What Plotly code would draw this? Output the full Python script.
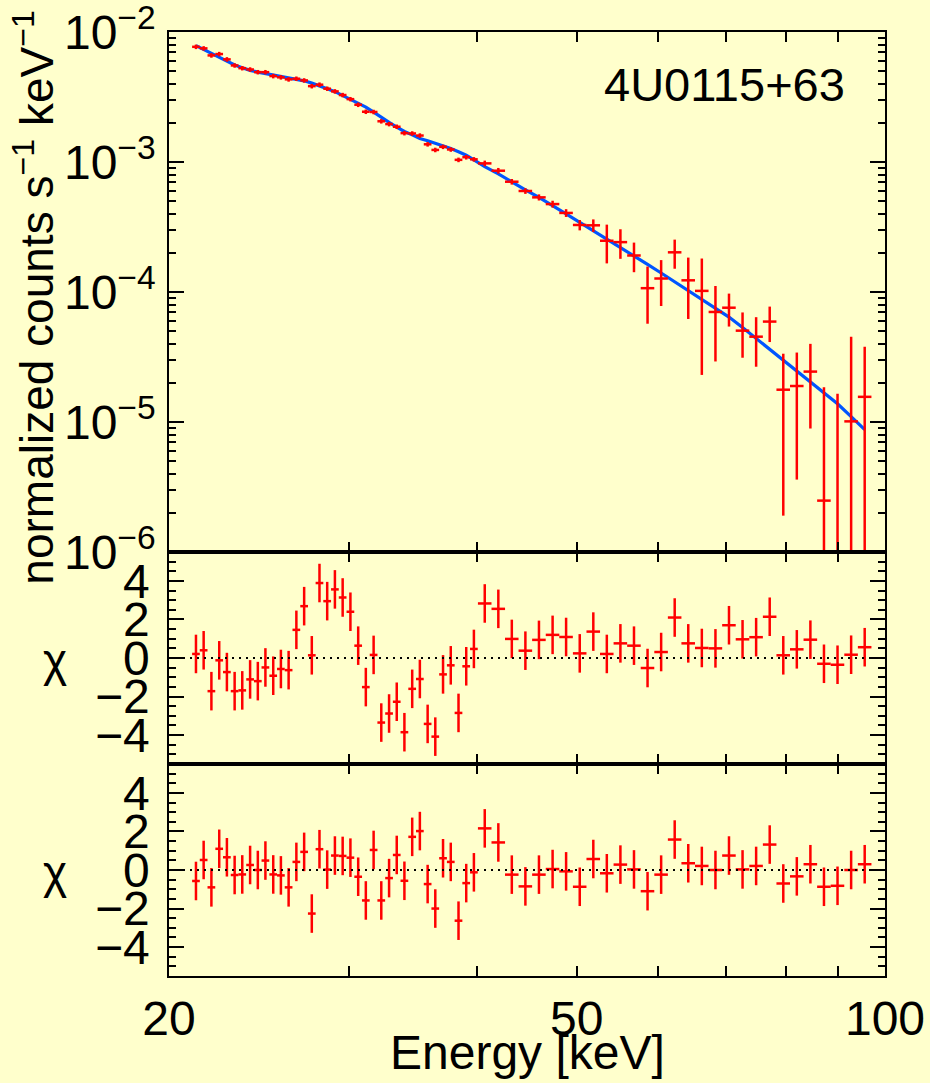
import plotly.graph_objects as go
from plotly.subplots import make_subplots

# ---------------- data ----------------
energy = [21.25, 21.62, 22.00, 22.39, 22.78, 23.18, 23.58, 24.00, 24.42, 24.84,
          25.28, 25.72, 26.17, 26.63, 27.10, 27.57, 28.05, 28.54, 29.04, 29.55,
          30.07, 30.60, 31.13, 31.68, 32.23, 32.80, 33.37, 33.95, 34.55, 35.15,
          35.77, 36.39, 37.03, 37.68, 38.34, 39.01, 39.69,
          40.67, 41.93, 43.22, 44.56, 45.94, 47.37, 48.83, 50.35, 51.91, 53.51,
          55.17, 56.88, 58.64, 60.46, 62.33, 64.26, 66.25, 68.31, 70.42, 72.60,
          74.85, 77.17, 79.56, 82.02, 84.56, 87.18, 89.88, 92.67, 95.54]

energy_halfwidth = [0.184, 0.188, 0.191, 0.194, 0.198, 0.201, 0.205, 0.208, 0.212, 0.216,
                    0.219, 0.223, 0.227, 0.231, 0.235, 0.239, 0.243, 0.248, 0.252, 0.256,
                    0.261, 0.266, 0.270, 0.275, 0.280, 0.285, 0.290, 0.295, 0.300, 0.305,
                    0.310, 0.316, 0.321, 0.327, 0.333, 0.339, 0.344,
                    0.620, 0.639, 0.659, 0.680, 0.701, 0.722, 0.745, 0.768, 0.792, 0.816,
                    0.841, 0.867, 0.894, 0.922, 0.951, 0.980, 1.010, 1.042, 1.074, 1.107,
                    1.142, 1.177, 1.213, 1.251, 1.290, 1.330, 1.371, 1.413, 1.457]

flux = [7.71e-3, 7.50e-3, 6.62e-3, 6.78e-3, 6.17e-3, 5.54e-3, 5.28e-3, 5.16e-3, 4.92e-3, 4.92e-3,
        4.59e-3, 4.49e-3, 4.33e-3, 4.38e-3, 4.25e-3, 3.84e-3, 3.94e-3, 3.67e-3, 3.50e-3, 3.28e-3,
        3.05e-3, 2.76e-3, 2.44e-3, 2.43e-3, 2.06e-3, 1.96e-3, 1.87e-3, 1.67e-3, 1.66e-3, 1.60e-3,
        1.37e-3, 1.24e-3, 1.31e-3, 1.25e-3, 1.04e-3, 1.09e-3, 1.05e-3,
        9.77e-4, 8.58e-4, 7.06e-4, 5.99e-4, 5.35e-4, 4.75e-4, 4.06e-4, 3.28e-4, 3.26e-4, 2.48e-4,
        2.42e-4, 1.91e-4, 1.07e-4, 1.27e-4, 2.02e-4, 1.23e-4, 1.02e-4, 7.02e-5, 7.57e-5, 5.04e-5,
        4.53e-5, 5.92e-5, 1.77e-5, 1.89e-5, 2.44e-5, 2.48e-6, 7.0e-7, 1.01e-5, 1.56e-5]

flux_err = [3.1e-4, 3.0e-4, 2.65e-4, 2.7e-4, 2.5e-4, 2.2e-4, 2.1e-4, 2.05e-4, 1.95e-4, 1.95e-4,
            1.85e-4, 1.8e-4, 1.75e-4, 1.75e-4, 1.7e-4, 1.55e-4, 1.6e-4, 1.45e-4, 1.4e-4, 1.3e-4,
            1.2e-4, 1.1e-4, 9.8e-5, 9.7e-5, 8.2e-5, 7.8e-5, 7.5e-5, 6.7e-5, 6.6e-5, 6.4e-5,
            5.5e-5, 5.0e-5, 5.2e-5, 5.0e-5, 4.2e-5, 4.4e-5, 4.2e-5,
            4.9e-5, 4.3e-5, 3.5e-5, 3.0e-5, 2.9e-5, 2.9e-5, 2.8e-5, 3.0e-5, 3.6e-5, 8.2e-5,
            6.2e-5, 4.9e-5, 5.0e-5, 4.9e-5, 5.1e-5, 6.1e-5, 7.9e-5, 4.1e-5, 2.15e-5, 1.92e-5,
            1.87e-5, 1.8e-5, 1.58e-5, 1.53e-5, 1.55e-5, 1.6e-5, 1.58e-5, 3.52e-5, 2.23e-5]

model = [7.87e-3, 7.35e-3, 6.87e-3, 6.40e-3, 5.97e-3, 5.58e-3, 5.33e-3, 5.08e-3, 4.92e-3, 4.79e-3,
         4.66e-3, 4.55e-3, 4.44e-3, 4.35e-3, 4.22e-3, 4.05e-3, 3.87e-3, 3.67e-3, 3.48e-3, 3.24e-3,
         3.03e-3, 2.83e-3, 2.65e-3, 2.42e-3, 2.20e-3, 2.02e-3, 1.86e-3, 1.72e-3, 1.62e-3, 1.52e-3,
         1.46e-3, 1.40e-3, 1.33e-3, 1.27e-3, 1.20e-3, 1.13e-3, 1.04e-3,
         9.23e-4, 8.11e-4, 7.02e-4, 6.12e-4, 5.35e-4, 4.66e-4, 4.00e-4, 3.44e-4, 2.97e-4, 2.55e-4,
         2.20e-4, 1.90e-4, 1.63e-4, 1.40e-4, 1.20e-4, 1.02e-4, 8.77e-5, 7.50e-5, 6.41e-5, 5.33e-5,
         4.40e-5, 3.64e-5, 3.00e-5, 2.48e-5, 2.05e-5, 1.68e-5, 1.38e-5, 1.10e-5, 8.73e-6]

chi_middle = [0.21, 0.40, -1.72, -0.12, -0.73, -1.72, -1.68, -1.11, -1.20, -0.49,
              -0.92, -0.57, -0.63, 1.46, 2.69, 0.14, 3.89, 2.95, 3.56, 3.14,
              2.40, 0.64, -1.51, 0.16, -3.35, -2.88, -2.27, -3.85, -1.60, -1.09,
              -3.42, -4.08, -0.85, -0.38, -2.85, -0.43, 0.47,
              2.83, 2.55, 0.99, 0.38, 0.94, 1.20, 1.09, 0.24, 1.37, 0.21,
              0.76, 0.64, -0.52, 0.31, 2.10, 0.76, 0.52, 0.50, 1.70, 0.97,
              1.08, 2.14, 0.14, 0.45, 0.95, -0.30, -0.35, 0.17, 0.56]

chi_bottom = [-0.57, 0.52, -0.90, 1.10, 0.66, -0.26, -0.23, 0.26, 0.00, 0.49,
              -0.23, -0.28, -0.90, 0.42, 0.94, -2.26, 1.08, 0.02, 0.75, 0.73,
              0.64, -0.35, -1.58, 1.04, -1.58, -0.42, 0.78, -0.56, 1.72, 2.02,
              -0.73, -2.00, 0.61, 0.42, -2.63, -0.68, -0.12,
              2.16, 1.43, -0.24, -0.85, -0.24, 0.05, -0.07, -0.87, 0.57, -0.17,
              0.28, 0.03, -1.10, -0.24, 1.58, 0.35, 0.21, 0.00, 0.75, 0.03,
              0.21, 1.32, -0.70, -0.33, 0.30, -0.87, -0.82, 0.00, 0.30]

chi_err = [1.0] * len(energy)

x_tickvals = [20, 50, 100]
x_ticktext = ["20", "50", "100"]
x_minor_tickvals = [30, 40, 60, 70, 80, 90]
flux_tickvals = [1e-6, 1e-5, 1e-4, 1e-3, 1e-2]
flux_ticktext = ["10<sup>−6</sup>", "10<sup>−5</sup>", "10<sup>−4</sup>",
                 "10<sup>−3</sup>", "10<sup>−2</sup>"]
flux_minor_tickvals = [m * 10.0 ** e for e in range(-6, -2) for m in range(2, 10)]
chi_tickvals = [-4, -2, 0, 2, 4]
chi_ticktext = ["−4", "−2", "0", "2", "4"]

source_name = "4U0115+63"

# ---------------- style ----------------
RED = "#ff0000"
BLUE = "#0055ff"
BG = "#ffffcc"
FONT = "Liberation Sans, Arial, Helvetica, sans-serif"

fig = make_subplots(rows=3, cols=1, shared_xaxes=True, vertical_spacing=0,
                    row_heights=[520, 212, 212])

fig.add_trace(go.Scatter(x=energy, y=model, mode="lines",
                         line=dict(color=BLUE, width=3.2), hoverinfo="skip"),
              row=1, col=1)


def cross_trace(yvals, yerr):
    return go.Scatter(
        x=energy, y=yvals, mode="markers",
        marker=dict(size=0, opacity=0, color=RED),
        error_x=dict(type="data", array=energy_halfwidth, color=RED, thickness=2.5, width=0),
        error_y=dict(type="data", array=yerr, color=RED, thickness=2.5, width=0),
    )


fig.add_trace(cross_trace(flux, flux_err), row=1, col=1)
fig.add_trace(cross_trace(chi_middle, chi_err), row=2, col=1)
fig.add_trace(cross_trace(chi_bottom, chi_err), row=3, col=1)

for r in (2, 3):
    fig.add_hline(y=0, row=r, col=1, line=dict(color="black", width=1.8, dash="2px,5px"))

axis_common = dict(showline=True, linecolor="black", linewidth=1.5, mirror="ticks",
                   ticks="inside", tickcolor="black", tickwidth=1.5,
                   showgrid=False, zeroline=False, automargin=False)

for r in (1, 2, 3):
    fig.update_xaxes(type="log", range=[1.30103, 2.0], tickmode="array",
                     tickvals=x_tickvals, ticktext=x_ticktext, ticklen=10,
                     minor=dict(tickmode="array", tickvals=x_minor_tickvals, ticklen=10,
                                ticks="inside", tickcolor="black", tickwidth=1.5),
                     showticklabels=(r == 3), ticklabelstandoff=0,
                     tickfont=dict(size=48, family=FONT, color="black"),
                     row=r, col=1, **axis_common)

fig.update_yaxes(type="log", range=[-6.001, -1.999], tickmode="array",
                 tickvals=flux_tickvals, ticktext=flux_ticktext, ticklen=15,
                 minor=dict(tickmode="array", tickvals=flux_minor_tickvals, ticklen=7,
                            ticks="inside", tickcolor="black", tickwidth=1.5),
                 tickfont=dict(size=48, family=FONT, color="black"), ticklabelstandoff=2,
                 ticklabeloverflow="allow",
                 row=1, col=1, **axis_common)

for r in (2, 3):
    fig.update_yaxes(range=[-5.5, 5.5], tickmode="array",
                     tickvals=chi_tickvals, ticktext=chi_ticktext, ticklen=15,
                     minor=dict(dtick=0.5, tick0=0, ticklen=7, ticks="inside",
                                tickcolor="black", tickwidth=1.5),
                     tickfont=dict(size=48, family=FONT, color="black"), ticklabelstandoff=8,
                     row=r, col=1, **axis_common)

annotations = [
    dict(text="normalized counts s<sup>−1</sup> keV<sup>−1</sup>", x=-0.189, y=0.7193,
         textangle=-90, font=dict(size=46)),
    dict(text="χ", x=-0.159, y=0.3347, font=dict(size=46)),
    dict(text="χ", x=-0.159, y=0.1102, font=dict(size=46)),
    dict(text="Energy [keV]", x=0.5, y=-0.0815, font=dict(size=48)),
    dict(text=source_name, x=0.7765, y=0.9439, font=dict(size=47)),
]
for a in annotations:
    a.update(xref="paper", yref="paper", showarrow=False, xanchor="center", yanchor="middle")
    a["font"].update(family=FONT, color="black")
    fig.add_annotation(**a)

fig.update_layout(
    width=930, height=1083,
    margin=dict(l=169, r=45, t=32, b=107, autoexpand=False),
    paper_bgcolor=BG, plot_bgcolor=BG,
    showlegend=False,
    font=dict(family=FONT, size=48, color="black"),
)

fig.write_html("out.html",
               config={"displayModeBar": False},
               post_script="document.body.style.margin='0';"
                           "document.body.style.background='#ffffcc';"
                           "document.body.style.overflow='hidden';")
